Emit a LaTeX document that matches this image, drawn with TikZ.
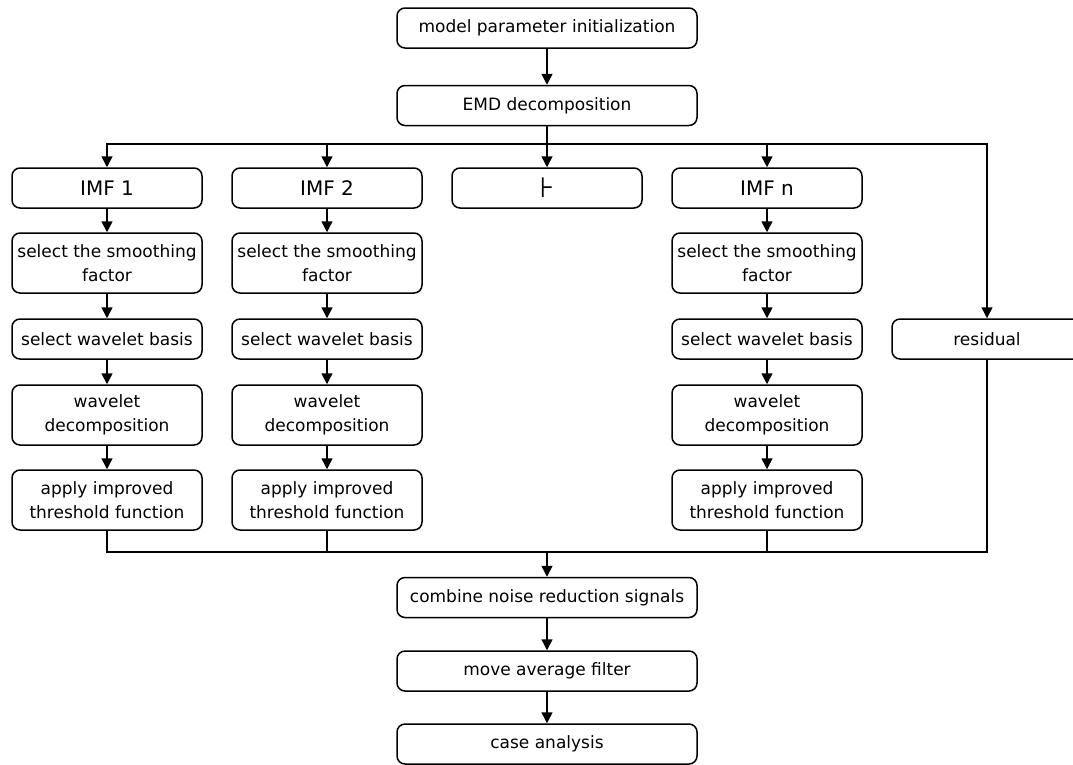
\documentclass[tikz,border=0pt]{standalone}
\usepackage{fontspec}
\setmainfont{DejaVu Sans}
\usetikzlibrary{arrows.meta, positioning}

\begin{document}
\begin{tikzpicture}[x=1pt, y=-1pt, line width=1.5pt,
    box/.style={draw, rounded corners=8pt, minimum width=190pt, minimum height=40pt,
        inner sep=0pt, align=center, font=\fontsize{17}{24}\selectfont},
    tallbox/.style={box, minimum height=60pt},
    widebox/.style={box, minimum width=300pt},
    imfbox/.style={box, font=\fontsize{20}{24}\selectfont},
    flow/.style={-{Triangle[width=11pt, length=11pt]}}]
    \useasboundingbox (0,0) rectangle (1073,764);
    \clip (0,0) rectangle (1073,764);

    % Start
    \node[widebox] (model) at (547,28) {model parameter initialization};
    \node[widebox] (emd) at (547,105.5) {EMD decomposition};
    \coordinate (split) at (547,144);

    % IMF components
    \node[imfbox] (imf1) at (107,188) {IMF 1};
    \node[imfbox] (imf2) at (327,188) {IMF 2};
    \node[imfbox, font=\fontsize{28}{28}\selectfont] (dots) at (547,188) {⊦};
    \node[imfbox] (imfn) at (767,188) {IMF n};
    \node[box] (resid) at (987,339) {residual};

    % Denoising steps per IMF
    \node[tallbox] (smooth1) at (107,263) {select the smoothing\\factor};
    \node[tallbox] (smooth2) at (327,263) {select the smoothing\\factor};
    \node[tallbox] (smoothn) at (767,263) {select the smoothing\\factor};
    \node[box] (basis1) at (107,339) {select wavelet basis};
    \node[box] (basis2) at (327,339) {select wavelet basis};
    \node[box] (basisn) at (767,339) {select wavelet basis};
    \node[tallbox] (decomp1) at (107,415) {wavelet\\decomposition};
    \node[tallbox] (decomp2) at (327,415) {wavelet\\decomposition};
    \node[tallbox] (decompn) at (767,415) {wavelet\\decomposition};
    \node[tallbox] (apply1) at (107,500) {apply improved\\threshold function};
    \node[tallbox] (apply2) at (327,500) {apply improved\\threshold function};
    \node[tallbox] (applyn) at (767,500) {apply improved\\threshold function};

    % Reconstruction
    \coordinate (merge) at (547,552);
    \node[widebox] (combine) at (547,597.5) {combine noise reduction signals};
    \node[widebox] (filter) at (547,671) {move average filter};
    \node[widebox] (case) at (547,744) {case analysis};

    % Connectors
    \draw[flow] (model) -- (emd);
    \draw[flow] (emd) -- (dots);
    \draw[flow] (split) -| (imf1);
    \draw[flow] (split) -| (imf2);
    \draw[flow] (split) -| (imfn);
    \draw[flow] (split) -| (resid);
    \draw[flow] (imf1) -- (smooth1);
    \draw[flow] (imf2) -- (smooth2);
    \draw[flow] (imfn) -- (smoothn);
    \draw[flow] (smooth1) -- (basis1);
    \draw[flow] (smooth2) -- (basis2);
    \draw[flow] (smoothn) -- (basisn);
    \draw[flow] (basis1) -- (decomp1);
    \draw[flow] (basis2) -- (decomp2);
    \draw[flow] (basisn) -- (decompn);
    \draw[flow] (decomp1) -- (apply1);
    \draw[flow] (decomp2) -- (apply2);
    \draw[flow] (decompn) -- (applyn);
    \draw (apply1) |- (merge);
    \draw (apply2) |- (merge);
    \draw (applyn) |- (merge);
    \draw (resid) |- (merge);
    \draw[flow] (merge) -- (combine);
    \draw[flow] (combine) -- (filter);
    \draw[flow] (filter) -- (case);
\end{tikzpicture}
\end{document}
